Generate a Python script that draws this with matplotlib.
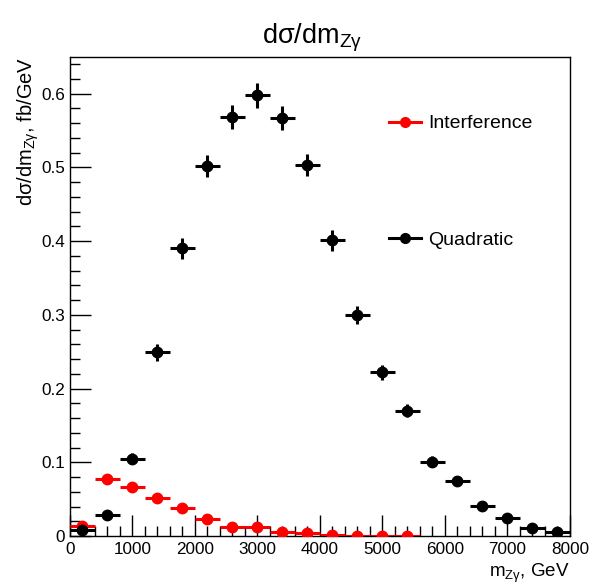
import matplotlib
matplotlib.use("Agg")
import matplotlib.pyplot as plt
from matplotlib.lines import Line2D

plt.rcParams['font.family'] = ['Liberation Sans', 'DejaVu Sans']
plt.rcParams['mathtext.fontset'] = 'custom'
plt.rcParams['mathtext.rm'] = 'Liberation Sans'
plt.rcParams['mathtext.it'] = 'Liberation Sans:italic'
plt.rcParams['mathtext.default'] = 'regular'

# Data (bin centres in GeV, bin width 400 GeV)
quad_x = [200, 600, 1000, 1400, 1800, 2200, 2600, 3000, 3400, 3800,
          4200, 4600, 5000, 5400, 5800, 6200, 6600, 7000, 7400, 7800]
quad_y = [0.008, 0.029, 0.105, 0.249, 0.390, 0.502, 0.568, 0.598, 0.567, 0.503,
          0.401, 0.300, 0.222, 0.170, 0.101, 0.075, 0.041, 0.025, 0.011, 0.005]
quad_err = [0.002, 0.004, 0.007, 0.012, 0.014, 0.015, 0.016, 0.017, 0.016, 0.015,
            0.014, 0.012, 0.010, 0.009, 0.007, 0.006, 0.004, 0.003, 0.002, 0.002]

int_x = [200, 600, 1000, 1400, 1800, 2200, 2600, 3000, 3400, 3800,
         4200, 4600, 5000, 5400]
int_y = [0.014, 0.077, 0.066, 0.052, 0.038, 0.023, 0.012, 0.012, 0.006, 0.004,
         0.001, -0.0005, -0.0005, -0.0005]
int_err = [0.002, 0.003, 0.003, 0.003, 0.002, 0.002, 0.002, 0.002, 0.001, 0.001,
           0.001, 0.001, 0.001, 0.001]
half_width = 200

x_ticks = [0, 1000, 2000, 3000, 4000, 5000, 6000, 7000, 8000]
x_labels = ['0', '1000', '2000', '3000', '4000', '5000', '6000', '7000', '8000']
y_ticks = [0, 0.1, 0.2, 0.3, 0.4, 0.5, 0.6]
y_labels = ['0', '0.1', '0.2', '0.3', '0.4', '0.5', '0.6']

fig = plt.figure(figsize=(5.93, 5.88), dpi=100)
ax = fig.add_axes([0.118, 0.0884, 0.843, 0.815])

ax.errorbar(int_x, int_y, xerr=half_width, yerr=int_err, fmt='o', color='red',
            ms=7.5, elinewidth=2.2, capsize=0, zorder=3)
ax.errorbar(quad_x, quad_y, xerr=half_width, yerr=quad_err, fmt='o', color='black',
            ms=7.5, elinewidth=2.2, capsize=0, zorder=4)

ax.set_xlim(0, 8000)
ax.set_ylim(0, 0.65)
ax.set_xticks(x_ticks, x_labels)
ax.set_xticks([v for v in range(0, 8001, 200)], minor=True)
ax.set_yticks(y_ticks, y_labels)
ax.set_yticks([i * 0.02 for i in range(0, 33)], minor=True)
ax.tick_params(which='both', direction='in', top=False, right=False, labelsize=12.3, width=1)
ax.tick_params(which='major', length=15)
ax.tick_params(which='minor', length=7.5)
ax.tick_params(axis='x', pad=4)
for s in ax.spines.values():
    s.set_linewidth(1)

fig.text(0.527, 0.935, 'dσ/dm$_{Zγ}$', ha='center', va='center', fontsize=19.5)
ax.set_ylabel('dσ/dm$_{Zγ}$, fb/GeV', fontsize=14.5, loc='top', labelpad=0.5)
ax.set_xlabel('m$_{Zγ}$, GeV', fontsize=13.5, loc='right', labelpad=4)

h1 = Line2D([], [], color='red', marker='o', ms=7, lw=2.2)
h2 = Line2D([], [], color='black', marker='o', ms=7, lw=2.2)
ax.legend([h1, h2], ['Interference', 'Quadratic'], loc='upper left',
          bbox_to_anchor=(0.638, 0.879), frameon=False, fontsize=14,
          handlelength=1.65, handletextpad=0.36, labelspacing=5.1, borderpad=0,
          borderaxespad=0)

fig.savefig('out.png', dpi=100)
